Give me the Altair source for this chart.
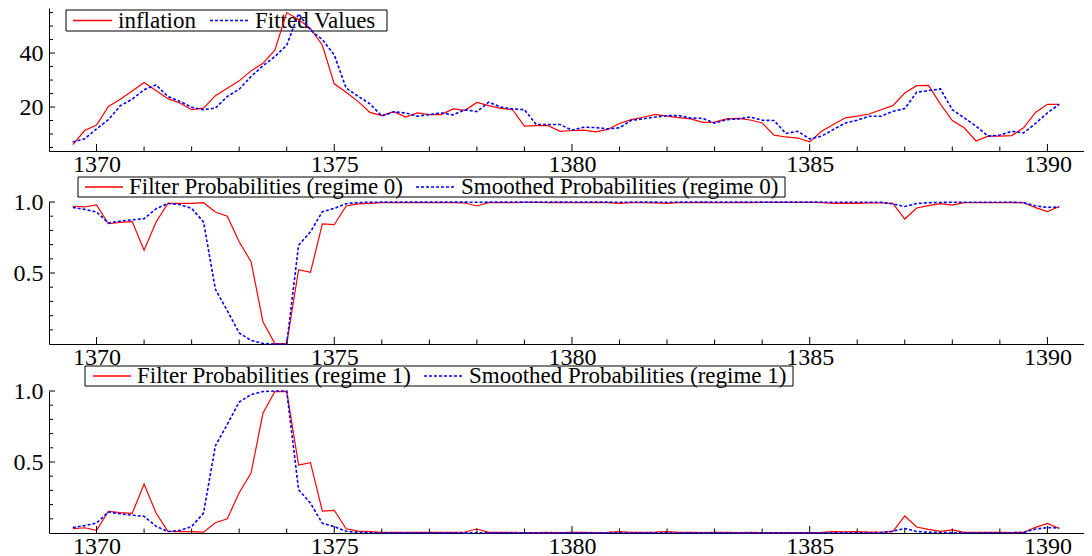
import altair as alt
import pandas as pd

# quarterly observations 1369(3) .. 1390(2)
N = 84
t = [1369.5 + 0.25 * i for i in range(N)]

inflation = [6.1, 11.3, 13.3, 20.2, 22.9, 25.9, 29.1, 26.1, 23.1, 21.5,
             19.0, 19.6, 24.2, 27.0, 29.7, 33.4, 36.2, 41.1, 55.0, 52.4,
             49.1, 42.9, 28.6, 25.5, 22.1, 18.0, 16.8, 18.3, 16.3, 17.8,
             17.2, 17.2, 19.3, 18.8, 21.7, 20.5, 19.5, 19.0, 12.9, 13.1,
             13.1, 11.0, 11.3, 11.4, 10.8, 11.7, 13.9, 15.3, 16.2, 17.3,
             16.6, 16.1, 15.6, 14.3, 14.4, 15.6, 15.8, 15.2, 14.1, 9.6,
             8.9, 8.5, 7.1, 11.0, 13.5, 16.0, 16.6, 17.4, 19.0, 20.5,
             25.2, 27.9, 28.0, 21.1, 15.0, 12.3, 7.4, 9.2, 9.2, 9.4,
             12.3, 18.0, 21.0, 21.0]

fitted = [7.0, 8.2, 11.9, 15.3, 20.5, 22.9, 26.4, 28.2, 23.9, 22.1,
          19.9, 19.0, 19.6, 23.9, 26.6, 31.3, 35.3, 38.7, 42.9, 54.6,
          48.5, 45.0, 39.3, 27.0, 24.0, 21.2, 16.7, 18.2, 17.8, 16.6,
          17.2, 17.8, 17.1, 19.0, 18.3, 21.8, 20.0, 19.3, 19.0, 13.5,
          13.5, 13.5, 11.4, 12.5, 12.4, 11.9, 12.3, 15.1, 15.6, 16.3,
          16.8, 16.8, 15.9, 15.8, 14.0, 15.3, 15.6, 16.3, 15.1, 15.0,
          10.2, 11.0, 8.2, 9.2, 11.7, 14.1, 15.1, 16.6, 16.6, 18.4,
          19.4, 25.5, 26.1, 26.7, 19.0, 16.0, 12.9, 9.2, 9.6, 11.0,
          10.4, 13.9, 17.8, 21.0]

filter0 = [0.97, 0.965, 0.98, 0.847, 0.857, 0.862, 0.66, 0.858, 0.99, 0.99,
           0.99, 0.995, 0.93, 0.9, 0.72, 0.58, 0.157, 0.003, 0.002, 0.523,
           0.505, 0.846, 0.84, 0.972, 0.987, 0.991, 0.995, 0.996, 0.995, 0.996,
           0.996, 0.995, 0.996, 0.993, 0.972, 0.996, 0.995, 0.996, 0.997, 0.997,
           0.996, 0.997, 0.995, 0.996, 0.997, 0.995, 0.99, 0.995, 0.996, 0.994,
           0.99, 0.995, 0.996, 0.997, 0.996, 0.996, 0.997, 0.996, 0.997, 0.998,
           0.998, 0.998, 0.998, 0.996, 0.99, 0.992, 0.99, 0.994, 0.993, 0.99,
           0.88, 0.958, 0.975, 0.988, 0.978, 0.995, 0.996, 0.995, 0.996, 0.997,
           0.995, 0.96, 0.932, 0.968]

smooth0 = [0.962, 0.948, 0.93, 0.852, 0.865, 0.875, 0.882, 0.952, 0.99, 0.982,
           0.955, 0.86, 0.385, 0.235, 0.078, 0.025, 0.004, 0.0, 0.0, 0.695,
           0.79, 0.932, 0.955, 0.988, 0.996, 0.998, 0.999, 0.999, 0.999, 0.999,
           0.999, 0.999, 0.999, 0.999, 0.998, 0.999, 0.999, 0.999, 0.999, 0.999,
           0.999, 0.999, 0.999, 0.999, 0.999, 0.999, 0.998, 0.999, 0.999, 0.999,
           0.998, 0.999, 0.999, 0.999, 0.999, 0.999, 0.999, 0.999, 0.999, 0.999,
           0.999, 0.999, 0.999, 0.999, 0.998, 0.998, 0.998, 0.998, 0.998, 0.987,
           0.968, 0.989, 0.995, 0.997, 0.998, 0.998, 0.998, 0.998, 0.998, 0.998,
           0.996, 0.972, 0.962, 0.965]

filter1 = [0.03, 0.037, 0.019, 0.153, 0.143, 0.138, 0.345, 0.142, 0.012, 0.01,
           0.009, 0.006, 0.072, 0.1, 0.283, 0.422, 0.843, 0.996, 0.998, 0.478,
           0.495, 0.154, 0.16, 0.03, 0.013, 0.009, 0.005, 0.004, 0.005, 0.004,
           0.004, 0.005, 0.004, 0.007, 0.028, 0.004, 0.005, 0.004, 0.003, 0.003,
           0.004, 0.003, 0.005, 0.004, 0.003, 0.005, 0.01, 0.005, 0.004, 0.006,
           0.01, 0.005, 0.004, 0.003, 0.004, 0.004, 0.003, 0.004, 0.003, 0.002,
           0.002, 0.002, 0.002, 0.004, 0.01, 0.008, 0.01, 0.006, 0.007, 0.01,
           0.12, 0.042, 0.025, 0.012, 0.022, 0.005, 0.004, 0.005, 0.004, 0.003,
           0.005, 0.04, 0.068, 0.032]

smooth1 = [0.038, 0.052, 0.07, 0.148, 0.135, 0.125, 0.118, 0.048, 0.01, 0.018,
           0.045, 0.14, 0.615, 0.765, 0.922, 0.975, 0.996, 1.0, 1.0, 0.305,
           0.21, 0.068, 0.045, 0.012, 0.004, 0.002, 0.001, 0.001, 0.001, 0.001,
           0.001, 0.001, 0.001, 0.001, 0.002, 0.001, 0.001, 0.001, 0.001, 0.001,
           0.001, 0.001, 0.001, 0.001, 0.001, 0.001, 0.002, 0.001, 0.001, 0.001,
           0.002, 0.001, 0.001, 0.001, 0.001, 0.001, 0.001, 0.001, 0.001, 0.001,
           0.001, 0.001, 0.001, 0.001, 0.002, 0.002, 0.002, 0.002, 0.002, 0.013,
           0.032, 0.011, 0.005, 0.003, 0.002, 0.002, 0.002, 0.002, 0.002, 0.002,
           0.004, 0.028, 0.038, 0.035]

x_major = [1370, 1375, 1380, 1385, 1390]
x_minor = [1371, 1372, 1373, 1374, 1376, 1377, 1378, 1379,
           1381, 1382, 1383, 1384, 1386, 1387, 1388, 1389]

infl_major = [20, 40]
infl_minor = [5, 10, 15, 25, 30, 35, 45, 50, 55]
prob_major = [0.5, 1.0]
prob_minor = [0.1, 0.2, 0.3, 0.4, 0.6, 0.7, 0.8, 0.9]

names1 = ["inflation", "Fitted Values"]
names2 = ["Filter Probabilities (regime 0)", "Smoothed Probabilities (regime 0)"]
names3 = ["Filter Probabilities (regime 1)", "Smoothed Probabilities (regime 1)"]

RED = "#ff0000"
BLUE = "#0000ff"
FONT = "Liberation Serif"
W = 1035
XDOM = [1369, 1390.77]


def panel(a, b, names, ydom, ymaj, ymin, yfmt, H, leg):
    df = pd.DataFrame({"t": t, "a": a, "b": b})
    xs = alt.Scale(domain=XDOM, nice=False, zero=False)
    ys = alt.Scale(domain=ydom, nice=False, zero=False)
    xax = alt.Axis(values=x_major, format="d", labelPadding=1, title=None)
    yax = alt.Axis(values=ymaj, format=yfmt, labelPadding=6, title=None)
    X = alt.X("t:Q", scale=xs, axis=xax, title=None)
    Ya = alt.Y("a:Q", scale=ys, axis=yax, title=None)
    Yb = alt.Y("b:Q", scale=ys, axis=yax, title=None)

    one = alt.Chart(pd.DataFrame({"k": [0]}))
    yc = leg["yc"]
    box = one.mark_rect(fill="white", stroke="black", strokeWidth=1).encode(
        x=alt.value(leg["box"][0]), x2=alt.value(leg["box"][1]),
        y=alt.value(leg["box"][2]), y2=alt.value(leg["box"][3]))
    s1 = one.mark_rule(color=RED, strokeWidth=1.3).encode(
        x=alt.value(leg["s1"][0]), x2=alt.value(leg["s1"][1]), y=alt.value(yc))
    s2 = one.mark_rule(color=BLUE, strokeWidth=1.6, strokeDash=[3, 2]).encode(
        x=alt.value(leg["s2"][0]), x2=alt.value(leg["s2"][1]), y=alt.value(yc))
    t1 = one.mark_text(align="left", baseline="middle", font=FONT, fontSize=23,
                       color="black").encode(
        x=alt.value(leg["t1"]), y=alt.value(yc), text=alt.value(names[0]))
    t2 = one.mark_text(align="left", baseline="middle", font=FONT, fontSize=23,
                       color="black").encode(
        x=alt.value(leg["t2"]), y=alt.value(yc), text=alt.value(names[1]))

    base = alt.Chart(df)
    red = base.mark_line(color=RED, strokeWidth=1.2).encode(x=X, y=Ya)
    blue = base.mark_line(color=BLUE, strokeWidth=1.6,
                          strokeDash=[3, 2]).encode(x=X, y=Yb)

    xt1 = alt.Chart(pd.DataFrame({"t": x_major})).mark_rule(color="black").encode(
        x=X, y=alt.value(H), y2=alt.value(H - 7))
    xt2 = alt.Chart(pd.DataFrame({"t": x_minor})).mark_rule(color="black").encode(
        x=X, y=alt.value(H), y2=alt.value(H - 4.5))
    yt1 = alt.Chart(pd.DataFrame({"a": ymaj})).mark_rule(color="black").encode(
        y=Ya, x=alt.value(0), x2=alt.value(6))
    yt2 = alt.Chart(pd.DataFrame({"a": ymin})).mark_rule(color="black").encode(
        y=Ya, x=alt.value(0), x2=alt.value(4))

    return alt.layer(box, s1, s2, t1, t2, red, blue, xt1, xt2, yt1, yt2).properties(
        width=W, height=H)


leg1 = {"box": (17, 338, 2, 23), "yc": 12.5, "s1": (24, 63), "t1": 69,
        "s2": (161, 199), "t2": 206}
leg2 = {"box": (29, 736, -25, -5), "yc": -15, "s1": (36, 74), "t1": 80,
        "s2": (367, 405), "t2": 412}
leg3 = {"box": (36, 744, -25, -5), "yc": -15, "s1": (44, 82), "t1": 88,
        "s2": (375, 413), "t2": 420}

p1 = panel(inflation, fitted, names1, [3.7, 56.7], infl_major, infl_minor, "d", 143, leg1)
p2 = panel(filter0, smooth0, names2, [0, 1], prob_major, prob_minor, ".1f", 142, leg2)
p3 = panel(filter1, smooth1, names3, [0, 1], prob_major, prob_minor, ".1f", 142, leg3)

lower = alt.vconcat(p2, p3, spacing=47, bounds="flush")
chart = alt.vconcat(p1, lower, spacing=51, bounds="flush").properties(
    padding={"left": 5, "top": 0, "right": 0, "bottom": 0},
    background="white",
).configure_view(stroke=None).configure_axis(
    ticks=False, grid=False, domainColor="black", domainWidth=1,
    labelFont=FONT, labelFontSize=24, labelColor="black",
    labelFlush=False, labelOverlap=False,
)

chart.save("out.html", embed_options={"renderer": "svg", "actions": False})
